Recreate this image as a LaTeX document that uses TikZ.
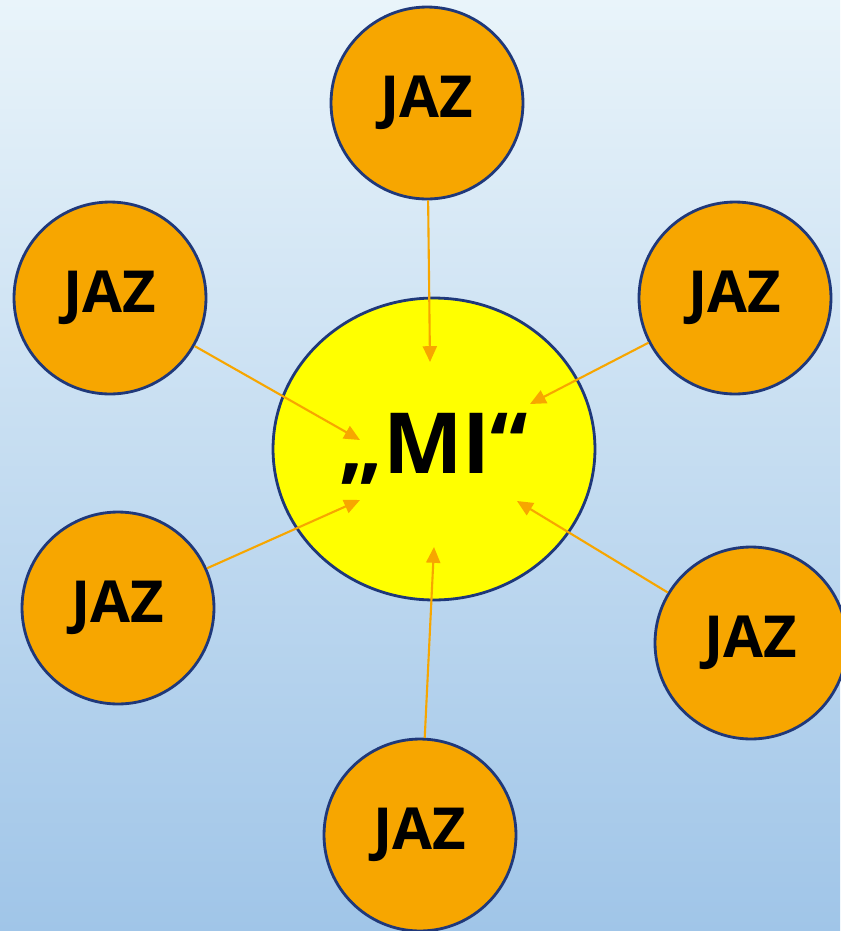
\documentclass[tikz,border=0pt]{standalone}
\usepackage{fontspec}
\setmainfont{Open Sans}
\usepackage{xcolor}
\usetikzlibrary{arrows.meta}
\usetikzlibrary{shapes.geometric}
\definecolor{naranca}{RGB}{247,166,0}
\definecolor{rub}{RGB}{31,56,122}
\definecolor{zuta}{RGB}{255,255,0}
\definecolor{nebogore}{RGB}{233,244,250}
\definecolor{nebodole}{RGB}{160,197,232}

\begin{document}
\begin{tikzpicture}[
  x=0.02cm, y=-0.02cm,
  jaz/.style={circle,draw=rub,line width=1.6pt,fill=naranca,
    minimum size=3.84cm,inner sep=0pt,font=\fontsize{33}{36}\selectfont\bfseries},
  mi/.style={ellipse,draw=rub,line width=1.6pt,fill=zuta,
    minimum width=6.44cm,minimum height=6.04cm,inner sep=0pt,
    font=\fontsize{48}{54}\selectfont\bfseries},
  veza/.style={draw=naranca,line width=1.2pt,-{Triangle[length=9pt,width=8pt]}}]
  % pozadina
  \shade[top color=nebogore,bottom color=nebodole] (0,0) rectangle (840,931);
  \useasboundingbox (0,0) rectangle (840,931);
  % sredina
  \node[mi] (mi) at (434,449) {„MI“};
  % krugovi
  \node[jaz] (gore)     at (427,103) {JAZ};
  \node[jaz] (goreL)    at (110,298) {JAZ};
  \node[jaz] (goreD)    at (735,298) {JAZ};
  \node[jaz] (doleL)    at (118,608) {JAZ};
  \node[jaz] (doleD)    at (751,643) {JAZ};
  \node[jaz] (dole)     at (420,835) {JAZ};
  % vrhovi strelica
  \coordinate (vGore)  at (430,362);
  \coordinate (vGoreL) at (360,440);
  \coordinate (vGoreD) at (530,404);
  \coordinate (vDoleL) at (360,500);
  \coordinate (vDoleD) at (517,501);
  \coordinate (vDole)  at (434,547);
  \draw[veza] (gore)  -- (vGore);
  \draw[veza] (goreL) -- (vGoreL);
  \draw[veza] (goreD) -- (vGoreD);
  \draw[veza] (doleL) -- (vDoleL);
  \draw[veza] (doleD) -- (vDoleD);
  \draw[veza] (dole)  -- (vDole);
\end{tikzpicture}
\end{document}
